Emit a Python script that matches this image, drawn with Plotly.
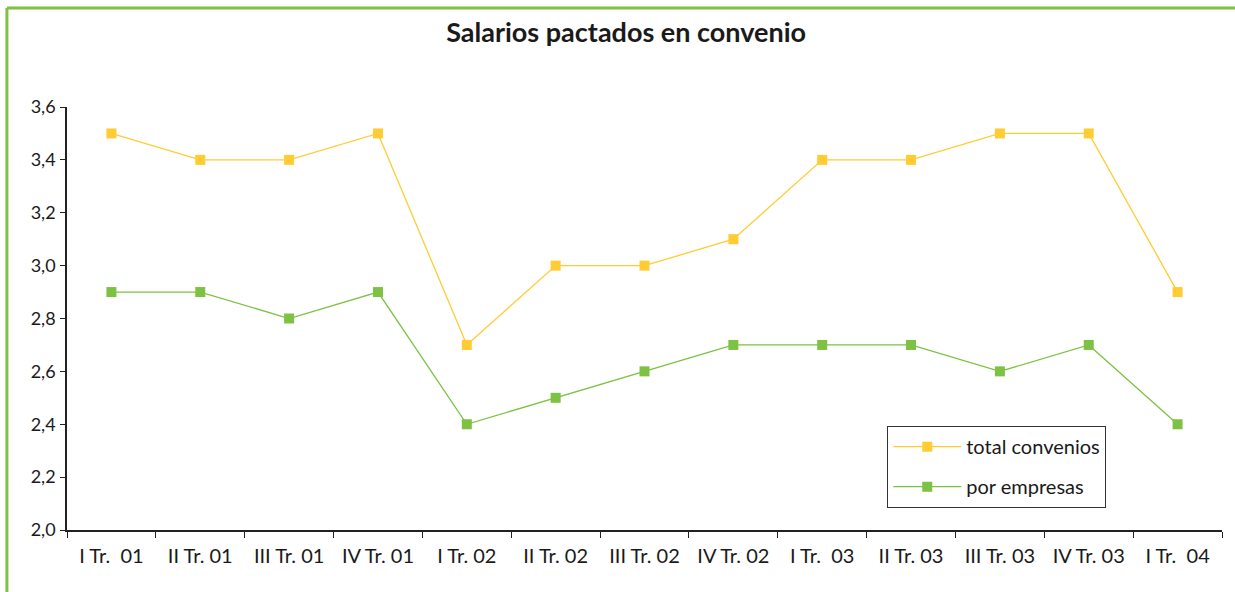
import plotly.graph_objects as go

categories = ["I Tr.\u00a0\u00a001", "II Tr. 01", "III Tr. 01", "IV Tr. 01", "I Tr. 02", "II Tr. 02",
              "III Tr. 02", "IV Tr. 02", "I Tr.\u00a0\u00a003", "II Tr. 03", "III Tr. 03", "IV Tr. 03", "I Tr.\u00a0\u00a004"]
total_convenios = [3.5, 3.4, 3.4, 3.5, 2.7, 3.0, 3.0, 3.1, 3.4, 3.4, 3.5, 3.5, 2.9]
por_empresas = [2.9, 2.9, 2.8, 2.9, 2.4, 2.5, 2.6, 2.7, 2.7, 2.7, 2.6, 2.7, 2.4]

YELLOW = "#FFCC33"
GREEN = "#7DC242"

fig = go.Figure()
fig.add_trace(go.Scatter(x=categories, y=total_convenios, name="total convenios", mode="lines+markers",
                         legendgroup="a",
                         line=dict(color=YELLOW, width=1.3), marker=dict(symbol="square", size=10, color=YELLOW)))
fig.add_trace(go.Scatter(x=categories, y=por_empresas, name="por empresas", mode="lines+markers",
                         legendgroup="b",
                         line=dict(color=GREEN, width=1.3), marker=dict(symbol="square", size=10, color=GREEN)))

fig.update_layout(
    width=1235, height=592,
    margin=dict(l=67, r=13, t=107, b=62),
    paper_bgcolor="white", plot_bgcolor="white",
    separators=",.",
    font=dict(family="Lato, 'Open Sans', sans-serif", size=20, color="#1a1a1a"),
    title=dict(text="<b>Salarios pactados en convenio</b>", x=0.507, xanchor="center", y=0.945, yanchor="middle",
               font=dict(size=27, color="#1a1a1a")),
    xaxis=dict(type="category", showline=True, linecolor="#222", linewidth=1.5, ticks="outside",
               tickson="boundaries", ticklen=6, tickcolor="#222", showgrid=False, zeroline=False,
               range=[-0.5, 12.5], tickfont=dict(size=20), ticklabelstandoff=7),
    yaxis=dict(range=[2.0, 3.6], dtick=0.2, tickformat=".1f", showline=True, linecolor="#222", linewidth=1.5,
               ticks="outside", ticklen=5, tickcolor="#222", showgrid=False, zeroline=False,
               tickfont=dict(size=18), ticklabelstandoff=1),
    legend=dict(x=0.71, y=0.246, xanchor="left", yanchor="top", bordercolor="#333", borderwidth=1.2,
                bgcolor="white", font=dict(size=20), tracegroupgap=11, itemwidth=68),
    showlegend=True,
)

# green frame
fig.add_shape(type="line", xref="paper", yref="paper", x0=-0.052, x1=1.05, y0=1.234, y1=1.234,
              line=dict(color=GREEN, width=3))
fig.add_shape(type="line", xref="paper", yref="paper", x0=-0.052, x1=-0.052, y0=1.234, y1=-0.2,
              line=dict(color=GREEN, width=3))

fig.write_html("out.html", config={"displayModeBar": False},
               post_script="document.body.style.margin='0';")
